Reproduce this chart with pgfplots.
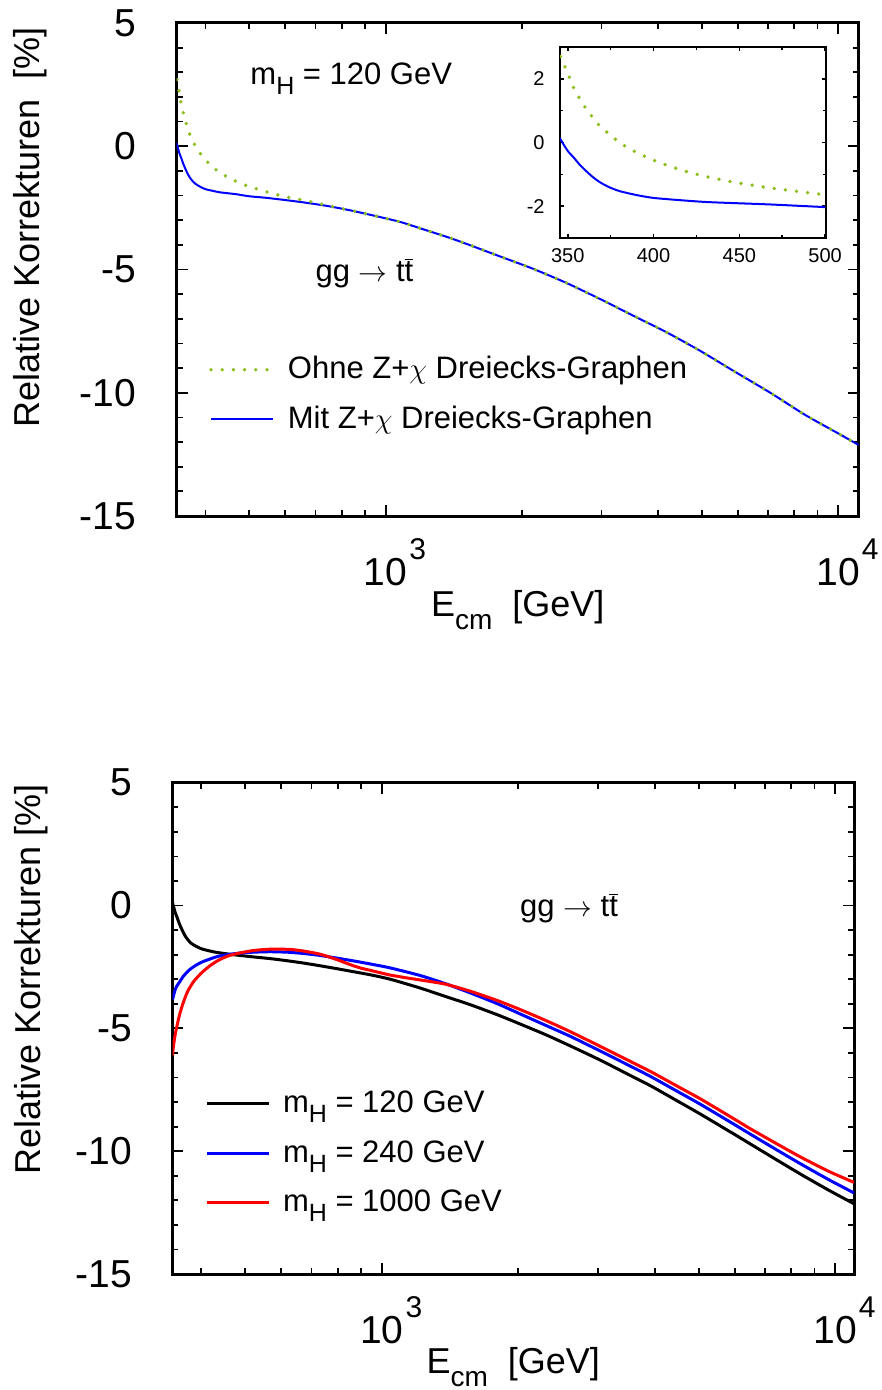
\documentclass[border=0pt]{standalone}
\usepackage{fontspec}
\setmainfont{Liberation Sans}
\usepackage{pgfplots}
\pgfplotsset{compat=1.18}
\definecolor{ygreen}{RGB}{140,190,30}
\definecolor{pblue}{RGB}{0,0,255}
\definecolor{pred}{RGB}{255,0,0}
\newcommand{\tsup}[1]{\rlap{\kern1pt\raisebox{13pt}{\fontsize{15}{15}\selectfont #1}}}
\newcommand{\mH}{m\raisebox{-0.32em}{\fontsize{12.5}{12.5}\selectfont H}}
\tikzset{dotg/.style={ygreen, line width=1.9pt, line cap=round, dash pattern=on 0pt off 5.6pt}}

\begin{document}
\begin{tikzpicture}
\useasboundingbox (0pt,0pt) rectangle (441pt,-695pt);

% ---------------- top panel ----------------
\begin{axis}[at={(88.35pt,-258pt)}, anchor=south west,
  scale only axis, width=341pt, height=246.5pt,
  xmode=log, xmin=345.5, xmax=11100, ymin=-15, ymax=5,
  ytick={-15,-10,-5,0,5}, yticklabels={-15,-10,-5,0,5},
  minor y tick num=4,
  xtick={1000,10000}, xticklabels={10\tsup{3},10\tsup{4}},
  minor xtick={400,500,600,700,800,900,2000,3000,4000,5000,6000,7000,8000,9000},
  tick align=inside, major tick length=5.5pt, minor tick length=3pt,
  axis line style={line width=1.5pt},
  tick style={black, line width=0.9pt},
  tick label style={font=\fontsize{19.5}{21}\selectfont},
  yticklabel style={anchor=east, inner sep=0pt, xshift=-20pt},
  xticklabel style={anchor=base, inner sep=0pt, yshift=-34.85pt},
  label style={font=\fontsize{18}{20}\selectfont},
  xlabel={E\raisebox{-0.38em}{\fontsize{14}{14}\selectfont cm}\ \ [GeV]},
  xlabel style={at={(axis description cs:0.5,0)}, anchor=base, inner sep=0pt, yshift=-50pt},
  ylabel={Relative Korrekturen\ \ [\%]},
  ylabel style={at={(axis description cs:-0.215,0.585)}, anchor=center, inner sep=0pt},
  legend cell align=left,
  legend style={at={(rel axis cs:0.0475,0.2404)}, anchor=west, draw=none, fill=none,
    inner sep=0pt, outer sep=0pt, font=\fontsize{15.5}{18}\selectfont, row sep=7.75pt,
    nodes={inner sep=0pt, text height=11.5pt, text depth=5.5pt}},
  legend image code/.code={\draw[#1] (0pt,1.5pt) -- (31pt,1.5pt); \path (37.5pt,1.5pt);}]
\addplot[pblue, line width=1pt, smooth, tension=0.4, forget plot] coordinates {
(345.5,0.13) (348,-0.1) (350.5,-0.3) (353.3,-0.46) (357,-0.7) (361,-0.91) (364.5,-1.08)
(368.8,-1.25) (374,-1.4) (380.4,-1.53) (390,-1.65) (399.8,-1.74) (415,-1.81)
(430.8,-1.87) (450,-1.91) (469.5,-1.95) (500,-2.03) (550,-2.1) (648,-2.26)
(742,-2.42) (835,-2.6) (950,-2.83) (1077,-3.07) (1202,-3.35) (1377,-3.70)
(1514,-3.97) (1778,-4.45) (2123,-4.98) (2512,-5.55) (2979,-6.2) (3548,-6.9)
(4178,-7.55) (4955,-8.3) (5916,-9.15) (7079,-10.0) (8453,-10.9) (10000,-11.65) (11100,-12.12)};
\addplot[dotg, smooth, tension=0.4] coordinates {
(345.8,2.7) (347,2.55) (349,2.3) (351.3,2.0) (353.8,1.67) (357.2,1.36) (360.6,1.07)
(364.7,0.78) (369,0.5) (374,0.27) (379,0.05) (384.7,-0.16) (390.5,-0.32) (396.3,-0.47)
(402.5,-0.61) (408.7,-0.73) (414.7,-0.84) (421,-0.94) (427.5,-1.03) (434,-1.11)
(440.5,-1.18) (447,-1.25) (453.7,-1.31) (460,-1.36) (466.6,-1.42) (473,-1.46)
(479.7,-1.51) (486.4,-1.55) (492.8,-1.6) (500,-1.64) (562,-1.92) (627,-2.12)
(664,-2.2) (742,-2.4) (835,-2.6) (950,-2.83) (1077,-3.07) (1202,-3.35) (1377,-3.70)
(1514,-3.97) (1778,-4.45) (2123,-4.98) (2512,-5.55) (2979,-6.2) (3548,-6.9)
(4178,-7.55) (4955,-8.3) (5916,-9.15) (7079,-10.0) (8453,-10.9) (10000,-11.65) (11100,-12.12)};
\addlegendentry{Ohne Z+$\chi$ Dreiecks-Graphen}
\addlegendimage{pblue, line width=1pt}
\addlegendentry{Mit Z+$\chi$ Dreiecks-Graphen}
\node[anchor=base west, inner sep=0pt, font=\fontsize{15.5}{18}\selectfont] at (rel axis cs:0.1075,0.876) {\mH\ = 120 GeV};
\node[anchor=base west, inner sep=0pt, font=\fontsize{15.5}{18}\selectfont] at (rel axis cs:0.203,0.475) {gg $\rightarrow$ t$\overline{\mbox{t}}$};
\end{axis}

% ---------------- inset ----------------
\begin{axis}[at={(280pt,-119pt)}, anchor=south west, scale only axis,
  width=133pt, height=95.5pt, xmin=345.5, xmax=500.5, ymin=-3, ymax=3,
  axis background/.style={fill=white},
  xtick={350,400,450,500}, xticklabels={350,400,450,500}, minor x tick num=1,
  ytick={-2,0,2}, yticklabels={-2,0,2}, minor y tick num=1,
  tick align=inside, major tick length=2.2pt, minor tick length=1.4pt,
  axis line style={line width=1.4pt},
  tick style={black, line width=0.8pt},
  tick label style={font=\fontsize{10}{11}\selectfont},
  yticklabel style={anchor=east, inner sep=0pt, xshift=-7.5pt},
  xticklabel style={anchor=north, inner sep=0pt, yshift=-5pt}]
\addplot[dotg, smooth, tension=0.4] coordinates {
(345.8,2.7) (347,2.55) (349,2.3) (351.3,2.0) (353.8,1.67) (357.2,1.36) (360.6,1.07)
(364.7,0.78) (369,0.5) (374,0.27) (379,0.05) (384.7,-0.16) (390.5,-0.32) (396.3,-0.47)
(402.5,-0.61) (408.7,-0.73) (414.7,-0.84) (421,-0.94) (427.5,-1.03) (434,-1.11)
(440.5,-1.18) (447,-1.25) (453.7,-1.31) (460,-1.36) (466.6,-1.42) (473,-1.46)
(479.7,-1.51) (486.4,-1.55) (492.8,-1.6) (500,-1.64)};
\addplot[pblue, line width=1pt, smooth, tension=0.4] coordinates {
(345.5,0.13) (348,-0.1) (350.5,-0.3) (353.3,-0.46) (357,-0.7) (361,-0.91) (364.5,-1.08)
(368.8,-1.25) (374,-1.4) (380.4,-1.53) (390,-1.65) (399.8,-1.74) (415,-1.81)
(430.8,-1.87) (450,-1.91) (469.5,-1.95) (500,-2.03)};
\end{axis}

% ---------------- bottom panel ----------------
\begin{axis}[at={(86.25pt,-637pt)}, anchor=south west,
  scale only axis, width=340.75pt, height=245.65pt,
  xmode=log, xmin=345.5, xmax=11000, ymin=-15, ymax=5,
  ytick={-15,-10,-5,0,5}, yticklabels={-15,-10,-5,0,5},
  minor y tick num=4,
  xtick={1000,10000}, xticklabels={10\tsup{3},10\tsup{4}},
  minor xtick={400,500,600,700,800,900,2000,3000,4000,5000,6000,7000,8000,9000},
  tick align=inside, major tick length=5.5pt, minor tick length=3pt,
  axis line style={line width=1.5pt},
  tick style={black, line width=0.9pt},
  tick label style={font=\fontsize{19.5}{21}\selectfont},
  yticklabel style={anchor=east, inner sep=0pt, xshift=-20pt},
  xticklabel style={anchor=base, inner sep=0pt, yshift=-34.85pt},
  label style={font=\fontsize{18}{20}\selectfont},
  xlabel={E\raisebox{-0.38em}{\fontsize{14}{14}\selectfont cm}\ \ [GeV]},
  xlabel style={at={(axis description cs:0.5,0)}, anchor=base, inner sep=0pt, yshift=-49.5pt},
  ylabel={Relative Korrekturen [\%]},
  ylabel style={at={(axis description cs:-0.207,0.6)}, anchor=center, inner sep=0pt},
  legend cell align=left,
  legend style={at={(rel axis cs:0.0477,0.2398)}, anchor=west, draw=none, fill=none,
    inner sep=0pt, outer sep=0pt, font=\fontsize{15.5}{18}\selectfont, row sep=7.75pt,
    nodes={inner sep=0pt, text height=11.5pt, text depth=5.5pt}},
  legend image code/.code={\draw[#1] (0pt,1.5pt) -- (31pt,1.5pt); \path (37.5pt,1.5pt);}]
\addplot[black, line width=1.5pt, smooth, tension=0.4] coordinates {
(345.5,0.12) (348,-0.1) (350.5,-0.3) (353.3,-0.46) (357,-0.7) (361,-0.91) (368.8,-1.25)
(380,-1.54) (400,-1.76) (430,-1.9) (470,-2.0) (520,-2.09) (567,-2.16) (620,-2.25)
(671,-2.34) (730,-2.45) (796,-2.57) (870,-2.7) (944,-2.82) (1044,-3.0) (1216,-3.36)
(1381,-3.7) (1569,-4.04) (1800,-4.45) (2023,-4.83) (2300,-5.26) (2608,-5.72)
(3038,-6.3) (3500,-6.88) (3917,-7.34) (4500,-7.97) (5053,-8.5) (6000,-9.32)
(6516,-9.72) (7500,-10.4) (8450,-10.97) (9700,-11.6) (11000,-12.14)};
\addlegendentry{\mH\ = 120 GeV}
\addplot[pblue, line width=1.5pt, smooth, tension=0.4] coordinates {
(345.5,-3.83) (348,-3.6) (350,-3.45) (352.5,-3.3) (358.5,-3.1) (365,-2.88) (377,-2.61)
(390,-2.42) (403.6,-2.28) (437,-2.06) (478,-1.95) (520,-1.9) (567,-1.88) (620,-1.9)
(671,-1.95) (730,-2.03) (796,-2.14) (870,-2.26) (944,-2.38) (1044,-2.54) (1216,-2.85)
(1381,-3.18) (1569,-3.56) (1800,-4.0) (2023,-4.42) (2300,-4.88) (2608,-5.33)
(3038,-5.93) (3500,-6.5) (3917,-6.96) (4500,-7.58) (5053,-8.1) (6000,-8.92)
(6516,-9.32) (7500,-9.99) (8450,-10.55) (9700,-11.17) (11000,-11.7)};
\addlegendentry{\mH\ = 240 GeV}
\addplot[pred, line width=1.5pt, smooth, tension=0.4] coordinates {
(345.5,-6.1) (347,-5.75) (349.5,-5.35) (352.5,-5.0) (358,-4.45) (364.6,-3.97) (373,-3.5)
(383.7,-3.12) (395,-2.85) (403.6,-2.68) (420,-2.42) (437,-2.22) (457,-2.06) (478,-1.96)
(521,-1.83) (577,-1.77) (630,-1.79) (671,-1.85) (731,-1.98) (796,-2.2) (850,-2.4)
(900,-2.55) (944,-2.64) (1000,-2.75) (1044,-2.83) (1130,-2.94) (1216,-3.03)
(1381,-3.2) (1569,-3.49) (1800,-3.87) (2023,-4.24) (2300,-4.68) (2608,-5.14)
(3038,-5.74) (3500,-6.31) (3917,-6.76) (4500,-7.37) (5053,-7.88) (6000,-8.7)
(6516,-9.1) (7500,-9.74) (8450,-10.27) (9700,-10.83) (11000,-11.27)};
\addlegendentry{\mH\ = 1000 GeV}
\node[anchor=base west, inner sep=0pt, font=\fontsize{15.5}{18}\selectfont] at (rel axis cs:0.5095,0.727) {gg $\rightarrow$ t$\overline{\mbox{t}}$};
\end{axis}
\end{tikzpicture}
\end{document}
